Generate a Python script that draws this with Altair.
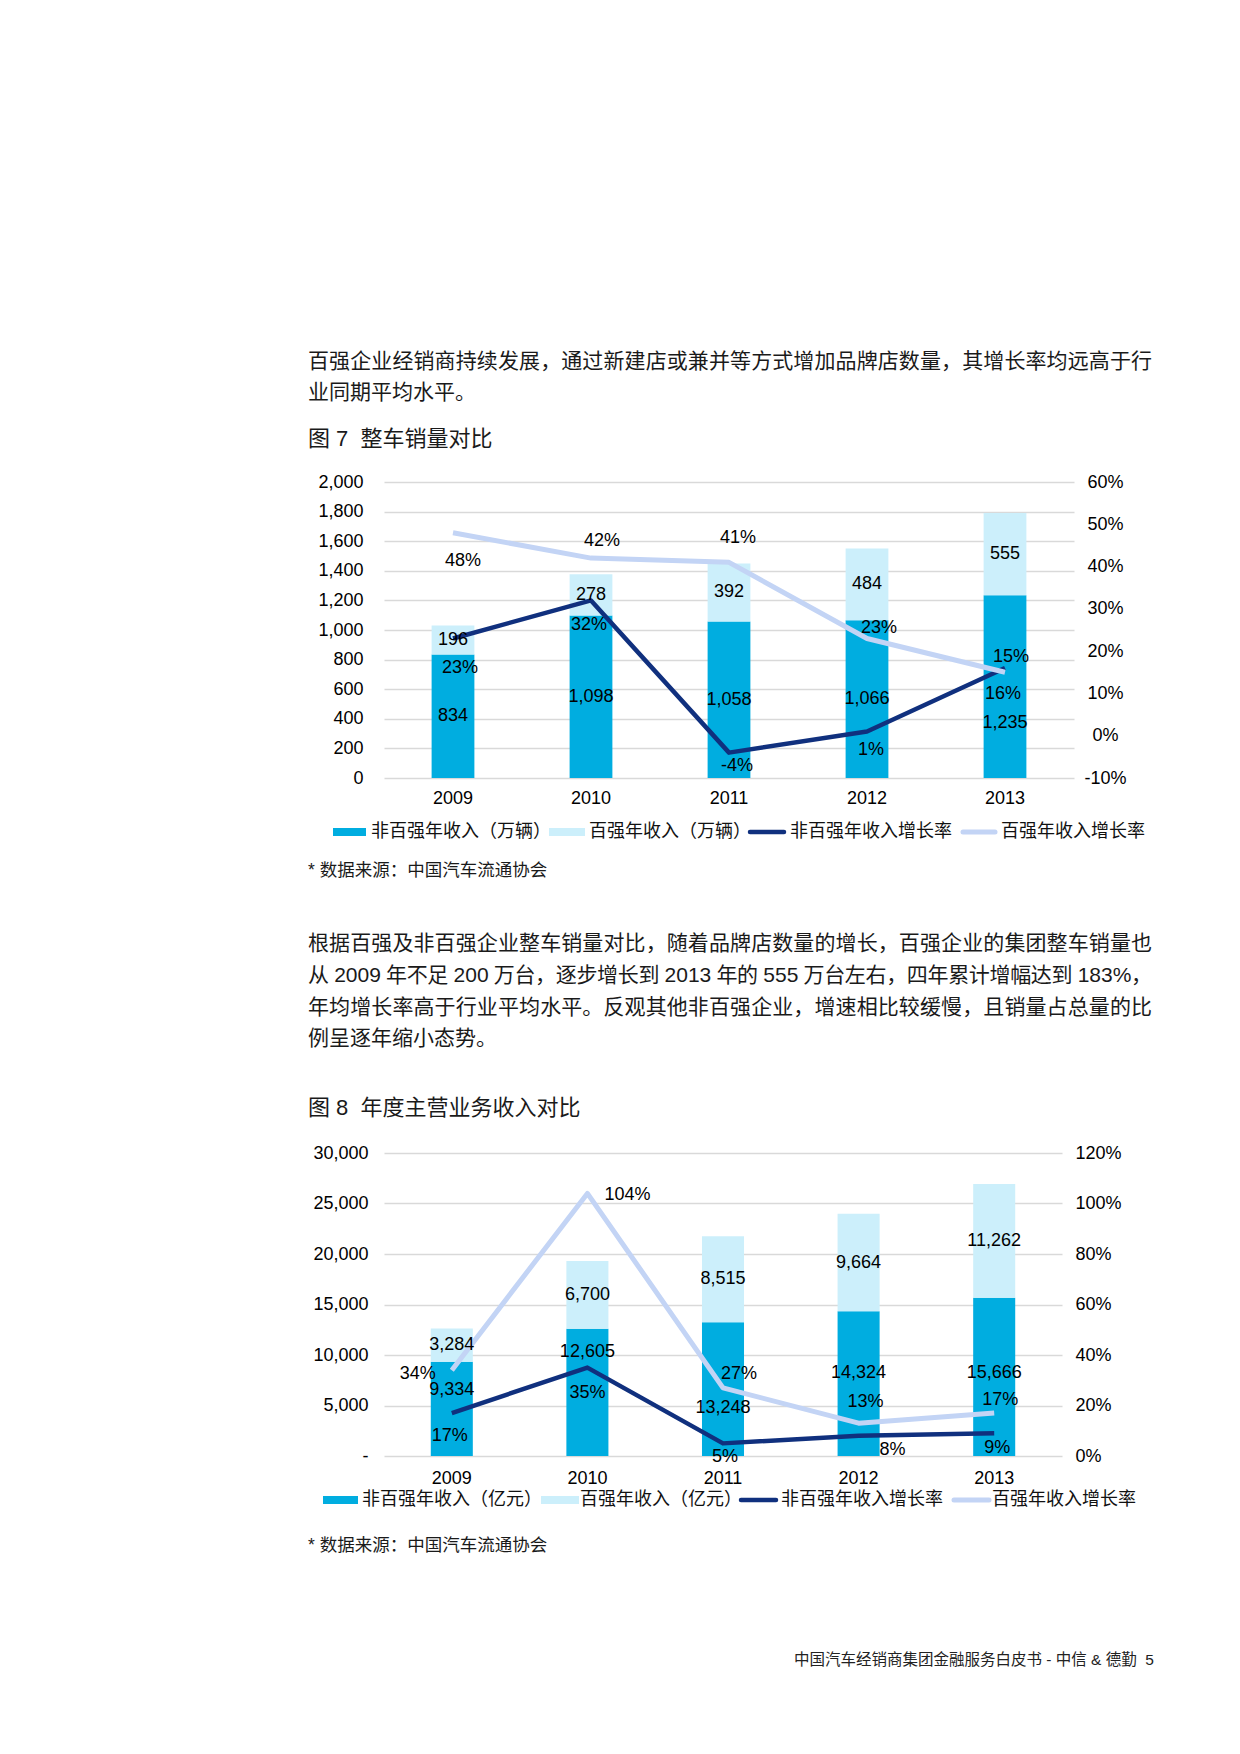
import altair as alt
import pandas as pd

# ---------------- data ----------------
YEARS = ["2009", "2010", "2011", "2012", "2013"]

F7_NON = [834, 1098, 1058, 1066, 1235]
F7_TOP = [196, 278, 392, 484, 555]
F7_NON_RATE = [23, 32, -4, 1, 16]
F7_TOP_RATE = [48, 42, 41, 23, 15]

F8_NON = [9334, 12605, 13248, 14324, 15666]
F8_TOP = [3284, 6700, 8515, 9664, 11262]
F8_NON_RATE = [17, 35, 5, 8, 9]
F8_TOP_RATE = [34, 104, 27, 13, 17]

F7_LEFT_TICKS = [0, 200, 400, 600, 800, 1000, 1200, 1400, 1600, 1800, 2000]
F7_RIGHT_TICKS = [-10, 0, 10, 20, 30, 40, 50, 60]
F8_LEFT_TICKS = [0, 5000, 10000, 15000, 20000, 25000, 30000]
F8_RIGHT_TICKS = [0, 20, 40, 60, 80, 100, 120]

LEG7 = ["非百强年收入（万辆）", "百强年收入（万辆）", "非百强年收入增长率", "百强年收入增长率"]
LEG8 = ["非百强年收入（亿元）", "百强年收入（亿元）", "非百强年收入增长率", "百强年收入增长率"]

PARA1 = ["百强企业经销商持续发展，通过新建店或兼并等方式增加品牌店数量，其增长率均远高于行",
         "业同期平均水平。"]
PARA2 = ["根据百强及非百强企业整车销量对比，随着品牌店数量的增长，百强企业的集团整车销量也",
         "从 2009 年不足 200 万台，逐步增长到 2013 年的 555 万台左右，四年累计增幅达到 183%，",
         "年均增长率高于行业平均水平。反观其他非百强企业，增速相比较缓慢，且销量占总量的比",
         "例呈逐年缩小态势。"]
TITLE7 = "图\u00a07\u00a0\u00a0整车销量对比"
TITLE8 = "图\u00a08\u00a0\u00a0年度主营业务收入对比"
SOURCE = "*\u00a0数据来源：中国汽车流通协会"
FOOTER = "中国汽车经销商集团金融服务白皮书 - 中信 & 德勤\u00a0\u00a05"

# ---------------- style ----------------
FONT = "Liberation Sans, Noto Sans CJK SC"
BAR_DARK = "#00ADE0"
BAR_LIGHT = "#CCEFFB"
LINE_DARK = "#10307E"
LINE_LIGHT = "#C3D4F5"
TXT = "#1a1a1a"

# label offsets in pixels (dx, dy)
F7_NON_LAB_DY = [0, 0, 0, 0, 36]
F7_NR_OFF = [(7, 30), (-2, 25), (8, 13), (4, 19), (-2, 26)]
F7_TR_OFF = [(10, 28), (11, -17), (9, -24), (12, -10), (6, -15)]
F8_NON_LAB_DY = [-19, -40, 19, -11, -4]
F8_NR_OFF = [(-2, 23), (0, 25), (2, 14), (34, 14), (3, 15)]
F8_TR_OFF = [(-34, 4), (40, 2), (16, -14), (7, -21), (6, -13)]


def labels(df, pos_expr, text_expr, offsets, scale, xenc):
    out = []
    for yr, (dx, dy) in zip(YEARS, offsets):
        out.append(
            alt.Chart(df)
            .transform_filter(alt.datum.year == yr)
            .transform_calculate(p=pos_expr, lab=text_expr)
            .mark_text(font=FONT, fontSize=18, color="#000", dx=dx, dy=dy, baseline="middle")
            .encode(x=xenc, y=alt.Y("p:Q", scale=scale, axis=None), text="lab:N")
        )
    return out


def figure(non, top, nrate, trate, w, h, ymax, lticks, lexpr, lpad,
           rdom, rticks, ralign, rpad, xpad, non_dy, nr_off, tr_off):
    df = pd.DataFrame({"year": YEARS, "non": non, "top": top, "nr": nrate, "tr": trate})
    xenc = alt.X("year:N", sort=YEARS, title=None,
                 scale=alt.Scale(domain=YEARS, paddingInner=0.69, paddingOuter=0.345),
                 axis=alt.Axis(labelAngle=0, domain=False, ticks=False, labelPadding=xpad))
    ys = alt.Scale(domain=[0, ymax], nice=False)
    yax = alt.Axis(values=lticks, labelExpr=lexpr, grid=True, gridColor="#D9D9D9", gridWidth=1.3,
                   domain=False, ticks=False, labelPadding=lpad, title=None)
    rs = alt.Scale(domain=rdom, nice=False, zero=False)
    rax = alt.Axis(orient="right", values=rticks, labelExpr="datum.value + '%'", grid=False,
                   domain=False, ticks=False, labelAlign=ralign, labelPadding=rpad, title=None)

    bars = (
        alt.Chart(df)
        .transform_fold(["non", "top"], as_=["s", "v"])
        .transform_calculate(o="datum.s == 'non' ? 0 : 1")
        .mark_bar()
        .encode(
            x=xenc,
            y=alt.Y("v:Q", stack="zero", scale=ys, axis=yax),
            color=alt.Color("s:N", scale=alt.Scale(domain=["non", "top"], range=[BAR_DARK, BAR_LIGHT]), legend=None),
            order=alt.Order("o:Q"),
        )
    )
    nline = alt.Chart(df).mark_line(color=LINE_DARK, strokeWidth=4.5, strokeJoin="round").encode(
        x=xenc, y=alt.Y("nr:Q", scale=rs, axis=rax))
    tline = alt.Chart(df).mark_line(color=LINE_LIGHT, strokeWidth=5, strokeJoin="round").encode(
        x=xenc, y=alt.Y("tr:Q", scale=rs, axis=None))

    layers = [bars, nline, tline]
    layers += labels(df, "datum.non / 2", "format(datum.non, ',')", [(0, d) for d in non_dy], ys, xenc)
    layers += labels(df, "datum.non + datum.top / 2", "format(datum.top, ',')", [(0, 0)] * 5, ys, xenc)
    layers += labels(df, "datum.nr", "datum.nr + '%'", nr_off, rs, xenc)
    layers += labels(df, "datum.tr", "datum.tr + '%'", tr_off, rs, xenc)
    return alt.layer(*layers).resolve_scale(y="independent").properties(width=w, height=h)


# ---------------- text helpers ----------------
def tokens(line):
    out, buf = [], ""
    for ch in line:
        if ord(ch) < 128 and ch != " ":
            buf += ch
        else:
            if buf:
                out.append(buf)
                buf = ""
            out.append(ch)
    if buf:
        out.append(buf)
    return out


def tok_w(t, fs):
    if t == " ":
        return 0.278 * fs
    if ord(t[0]) >= 128:
        return fs
    return sum(0.889 * fs if c == "%" else 0.556 * fs for c in t)


def justify(line, x0, x1, y, fs):
    toks = tokens(line)
    ws = [tok_w(t, fs) for t in toks]
    gap = ((x1 - x0) - sum(ws)) / max(len(toks) - 1, 1)
    rows, x = [], x0
    for t, wd in zip(toks, ws):
        if t != " ":
            rows.append({"t": t, "x": x, "y": y, "fs": fs, "c": TXT})
        x += wd + gap
    return rows


def row(t, x, y, fs, c=TXT):
    return {"t": t, "x": x, "y": y, "fs": fs, "c": c}


def text_layer(rows, align="left"):
    return alt.Chart(pd.DataFrame(rows)).mark_text(align=align, baseline="middle", font=FONT).encode(
        x=alt.X("x:Q", scale=None, axis=None),
        y=alt.Y("y:Q", scale=None, axis=None),
        text="t:N",
        size=alt.Size("fs:Q", scale=None, legend=None),
        color=alt.Color("c:N", scale=None, legend=None),
    )


def rule_layer(rows, cap):
    return alt.Chart(pd.DataFrame(rows)).mark_rule(strokeCap=cap).encode(
        x=alt.X("x:Q", scale=None, axis=None), x2="x2:Q",
        y=alt.Y("y:Q", scale=None, axis=None),
        color=alt.Color("c:N", scale=None, legend=None),
        strokeWidth=alt.StrokeWidth("w:Q", scale=None, legend=None),
    )


def legend_layers(names, y, bx, tx):
    bars = [{"x": bx[0][0], "x2": bx[0][1], "y": y, "c": BAR_DARK, "w": 8},
            {"x": bx[1][0], "x2": bx[1][1], "y": y, "c": BAR_LIGHT, "w": 8}]
    lines = [{"x": bx[2][0] + 2, "x2": bx[2][1] - 2, "y": y, "c": LINE_DARK, "w": 4.5},
             {"x": bx[3][0] + 2, "x2": bx[3][1] - 2, "y": y, "c": LINE_LIGHT, "w": 5}]
    txt = [row(n, x, y, 18, "#111") for n, x in zip(names, tx)]
    return [rule_layer(bars, "butt"), rule_layer(lines, "round"), text_layer(txt)]


PX0 = 384  # page x of the plot-area left edge
XL = 308 - PX0
XR = 1152 - PX0

# Block A: page y 8 .. 482
rowsA = justify(PARA1[0], XL, XR, 354, 21)
rowsA.append(row(PARA1[1], XL, 385, 21))
rowsA.append(row(TITLE7, XL, 431, 22))
anchor = alt.Chart(pd.DataFrame({"a": [0]})).mark_rect(color="white").encode(
    x=alt.value(-376), x2=alt.value(-375), y=alt.value(0), y2=alt.value(1))
blockA = alt.layer(anchor, text_layer(rowsA)).properties(width=690, height=474)

# Block B: page y 778 .. 1153
rowsB = [row(SOURCE, XL, 93, 17.5)]
for i, (ln, yy) in enumerate(zip(PARA2, [166, 197.5, 229.5, 261])):
    if i < len(PARA2) - 1:
        rowsB += justify(ln, XL, XR, yy, 21)
    else:
        rowsB.append(row(ln, XL, yy, 21))
rowsB.append(row(TITLE8, XL, 330, 22))
blockB = alt.layer(
    *legend_layers(LEG7, 54, [(-51, -18), (165, 201), (364, 402), (577, 613)], [-13, 205, 406, 617]),
    text_layer(rowsB),
).properties(width=690, height=375)

# Block C: page y 1456 ..
rowsC = [row(SOURCE, XL, 90, 17.5)]
blockC = alt.layer(
    *legend_layers(LEG8, 44, [(-61, -26), (157, 195), (355, 394), (568, 607)], [-22, 196, 397, 608]),
    text_layer(rowsC),
    text_layer([row(FOOTER, 1154 - PX0, 204, 15.5, "#222")], align="right"),
).properties(width=690, height=260)

fig7 = figure(F7_NON, F7_TOP, F7_NON_RATE, F7_TOP_RATE, 690, 296, 2000, F7_LEFT_TICKS,
              "format(datum.value, ',')", 21, [-10, 60], F7_RIGHT_TICKS, "center", 31, 11,
              F7_NON_LAB_DY, F7_NR_OFF, F7_TR_OFF)
fig8 = figure(F8_NON, F8_TOP, F8_NON_RATE, F8_TOP_RATE, 678, 303, 30000, F8_LEFT_TICKS,
              "datum.value == 0 ? '-' : format(datum.value, ',')", 16, [0, 120], F8_RIGHT_TICKS,
              "left", 13, 13, F8_NON_LAB_DY, F8_NR_OFF, F8_TR_OFF)

chart = (
    alt.vconcat(blockA, fig7, blockB, fig8, blockC, spacing=0, bounds="flush")
    .properties(padding=0)
    .configure_view(stroke=None)
    .configure_axis(labelFont=FONT, labelFontSize=18, labelColor="#000")
)

chart.save("out.html", embed_options={"renderer": "svg", "actions": False})
